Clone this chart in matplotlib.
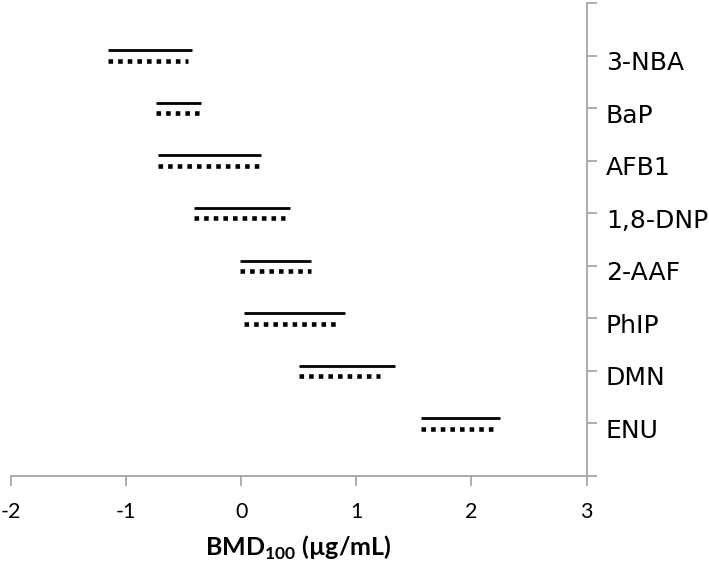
import matplotlib
matplotlib.use('Agg')
import matplotlib.pyplot as plt
from matplotlib.transforms import ScaledTranslation

# chemicals, bottom to top
chemicals = ['ENU', 'DMN', 'PhIP', '2-AAF', '1,8-DNP', 'AFB1', 'BaP', '3-NBA']

# solid line: BMD interval (log10 µg/mL)
solid_low = [1.56, 0.50, 0.02, -0.01, -0.41, -0.72, -0.74, -1.16]
solid_high = [2.25, 1.34, 0.90, 0.61, 0.42, 0.17, -0.35, -0.43]

# dotted line
dotted_low = [1.56, 0.50, 0.02, -0.01, -0.41, -0.72, -0.74, -1.16]
dotted_high = [2.23, 1.21, 0.86, 0.61, 0.38, 0.16, -0.36, -0.46]

axis_grey = '#a6a6a6'

plt.rcParams['mathtext.fontset'] = 'custom'
plt.rcParams['mathtext.rm'] = 'Lato'
plt.rcParams['mathtext.bf'] = 'Lato:bold'

fig = plt.figure(figsize=(7.09, 5.62), dpi=100)
ax = fig.add_axes([11 / 709, 1 - 476 / 562, (586.5 - 11) / 709, (476 - 3) / 562])

ypos = list(range(1, len(chemicals) + 1))
ax.hlines([y + 0.1 for y in ypos], solid_low, solid_high, colors='black', linewidth=2.0)
ax.hlines([y - 0.1 for y in ypos], dotted_low, dotted_high, colors='black',
          linewidth=3.3, linestyles=[(0, (1.0, 1.1))])

ax.set_xlim(-2, 3)
ax.set_ylim(0, len(chemicals) + 1)

ax.spines['top'].set_visible(False)
ax.spines['left'].set_visible(False)
for s in ['bottom', 'right']:
    ax.spines[s].set_color(axis_grey)
    ax.spines[s].set_linewidth(1.3)

ax.set_xticks([-2, -1, 0, 1, 2, 3])
ax.set_xticklabels(['-2', '-1', '0', '1', '2', '3'], fontfamily='Lato', fontsize=15.5)
ax.tick_params(axis='x', direction='out', length=7, width=1.3, color=axis_grey, pad=12)

ax.yaxis.tick_right()
ax.set_yticks(range(0, len(chemicals) + 2))
ax.set_yticklabels([''] + chemicals + [''], fontfamily='DejaVu Sans', fontsize=18)
ax.tick_params(axis='y', direction='out', length=7, width=1.3, color=axis_grey, pad=7)
# Excel puts the category text a little below the tick mark
shift = ScaledTranslation(0, -5 / 100, fig.dpi_scale_trans)
for lab in ax.get_yticklabels():
    lab.set_transform(lab.get_transform() + shift)

ax.set_xlabel(r'$\mathbf{BMD}_{\mathbf{100}}$ (µg/mL)', fontfamily='Lato',
              fontweight='bold', fontsize=18, labelpad=8)

fig.savefig('out.png', dpi=100)
